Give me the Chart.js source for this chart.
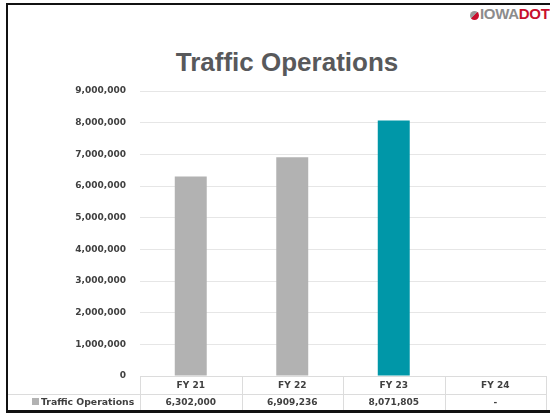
<!DOCTYPE html>
<html>
<head>
<meta charset="utf-8">
<script src="https://cdn.jsdelivr.net/npm/chart.js@4/dist/chart.umd.min.js"></script>
<style>
  html, body { margin:0; padding:0; background:#fff; }
  #wrap { position:relative; width:550px; height:414px; overflow:hidden; background:#fff; }
  #frame { position:absolute; left:6px; top:3px; width:600px; height:405px;
           border-top:2px solid #111; border-left:2px solid #111; border-bottom:3px solid #111; }
  #title { position:absolute; left:0; width:574px; top:47px; text-align:center;
           font-family:"Liberation Sans", Arial, sans-serif; font-weight:bold; font-size:26px; color:#58595b; }
  #logo { position:absolute; left:470px; top:6px; font-family:"Liberation Sans Narrow","Liberation Sans",sans-serif;
          font-weight:bold; font-size:15px; letter-spacing:-0.3px; line-height:15px; white-space:nowrap; }
  #logo .ic { display:inline-block; width:9px; height:9px; border-radius:50%; vertical-align:-1px; margin-right:1px;
              background:linear-gradient(135deg,#9a9a9a 0 45%,#c8102e 46% 100%); }
  #logo .a { color:#8c8c8c; }
  #logo .b { color:#c8102e; }
  canvas { position:absolute; left:0; top:0; }
</style>
</head>
<body>
<div id="wrap">
  <div id="frame"></div>
  <div id="logo"><span class="ic"></span><span class="a">IOWA</span><span class="b">DOT</span></div>
  <div id="title">Traffic Operations</div>
  <canvas id="c" width="550" height="414"></canvas>
</div>
<script>
const categories = ['FY 21', 'FY 22', 'FY 23', 'FY 24'];
const seriesName = 'Traffic Operations';
const values = [6302000, 6909236, 8071805, null];
const barColors = ['#b2b2b2', '#b2b2b2', '#0097a8', '#b2b2b2'];
const yTickValues = [0, 1000000, 2000000, 3000000, 4000000, 5000000, 6000000, 7000000, 8000000, 9000000];

const fmt = v => (v === null || v === undefined) ? '-' : v.toLocaleString('en-US');
const FONT = '"DejaVu Sans", sans-serif';
const TEXT = '#404040';
const LINE = '#dcdcdc';

const tablePlugin = {
  id: 'dataTable',
  afterDraw(chart) {
    const ctx = chart.ctx;
    const x = chart.scales.x;
    const area = chart.chartArea;
    const catW = (area.right - area.left) / categories.length;
    const top = area.bottom;
    const mid = top + 18;
    const bot = top + 34;
    ctx.save();
    ctx.strokeStyle = LINE;
    ctx.lineWidth = 1;
    ctx.beginPath();
    ctx.moveTo(area.left, top + 0.5); ctx.lineTo(area.right, top + 0.5);
    ctx.moveTo(8, mid + 0.5); ctx.lineTo(area.right, mid + 0.5);
    for (let i = 0; i <= categories.length; i++) {
      const px = Math.round(area.left + i * catW) + 0.5;
      ctx.moveTo(px, top); ctx.lineTo(px, bot);
    }
    ctx.stroke();
    ctx.fillStyle = TEXT;
    ctx.font = 'bold 9px ' + FONT;
    ctx.textAlign = 'center';
    ctx.textBaseline = 'middle';
    categories.forEach((c, i) => {
      const cx = x.getPixelForValue(i);
      ctx.fillText(c, cx, top + 9.5);
      ctx.fillText(fmt(values[i]), cx, mid + 8.5);
    });
    ctx.fillStyle = '#b2b2b2';
    ctx.fillRect(32, mid + 4, 7, 7);
    ctx.fillStyle = TEXT;
    ctx.textAlign = 'left';
    ctx.font = 'bold 9.3px ' + FONT;
    ctx.fillText(seriesName, 41, mid + 8.5);
    ctx.restore();
  }
};

new Chart(document.getElementById('c'), {
  type: 'bar',
  data: {
    labels: categories,
    datasets: [{
      label: seriesName,
      data: values,
      backgroundColor: barColors,
      categoryPercentage: 1,
      barPercentage: 0.315
    }]
  },
  options: {
    responsive: false,
    animation: false,
    layout: { padding: { top: 91, left: 0, right: 4, bottom: 4 } },
    plugins: { legend: { display: false }, tooltip: { enabled: false }, title: { display: false } },
    scales: {
      x: {
        offset: true,
        grid: { display: false },
        border: { display: false },
        ticks: { display: false },
        afterFit(s) { s.height = 34; }
      },
      y: {
        min: 0,
        max: 9000000,
        afterBuildTicks(s) { s.ticks = yTickValues.map(v => ({ value: v })); },
        afterFit(s) { s.width = 140; },
        grid: { color: '#e6e6e6', drawTicks: false },
        border: { display: false },
        ticks: {
          padding: 14,
          color: TEXT,
          font: { family: FONT, size: 9, weight: 'bold' },
          callback: v => fmt(v)
        }
      }
    }
  },
  plugins: [tablePlugin]
});
</script>
</body>
</html>
